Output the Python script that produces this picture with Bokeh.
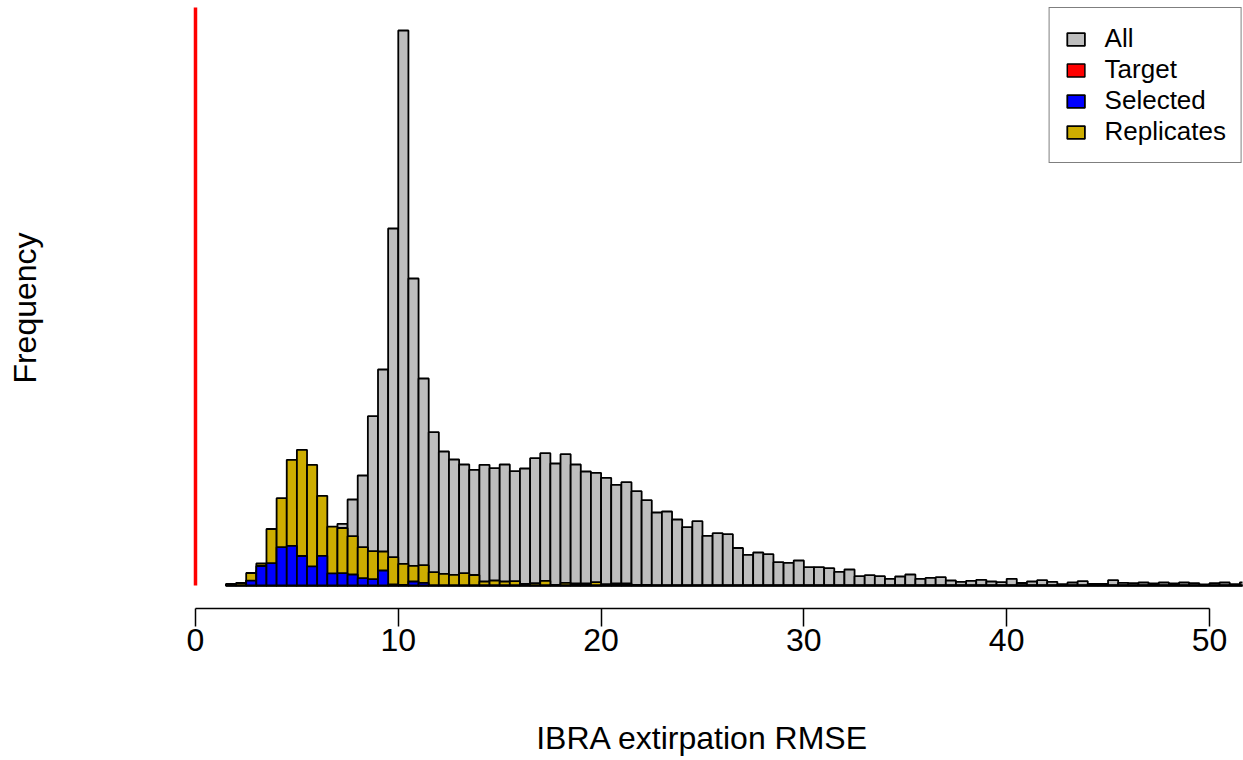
import numpy as np
from bokeh.plotting import figure
from bokeh.models import Range1d, FixedTicker, Legend, LegendItem, ColumnDataSource
from bokeh.embed import file_html
from bokeh.resources import INLINE

# ---------------- data ----------------
bin_start = 1.5
bin_width = 0.5

all_counts = [
    1.5, 2, 5, 15, 20, 25, 30, 33, 38, 42,
    50, 61.7, 86, 110, 169.3, 216, 357, 555, 307, 207,
    153.3, 134, 126, 121, 115.7, 120.7, 117.3, 121, 114.3, 117,
    127.3, 132.3, 122, 131.3, 121, 114, 112.7, 107.7, 100.7, 103.3,
    94.3, 85.3, 73, 74, 66, 58.3, 64.3, 49.7, 52.3, 51.3,
    37.5, 30.7, 33, 31.3, 23.3, 22.7, 25, 18.3, 18.3, 17.3,
    13.7, 16, 9.3, 10.3, 9.3, 6.7, 9, 11, 6.7, 7.7,
    8.3, 5, 3.7, 4.7, 5.7, 4, 3.3, 6.7, 2.5, 4,
    5.3, 3.7, 1.3, 3, 4.3, 1.7, 1.7, 5.3, 2.7, 2.3,
    3, 2, 3, 2, 3, 2.3, 1, 2.3, 3, 1.3,
    3,
]

replicate_counts = [
    0.8, 2.5, 12.5, 22, 56.5, 87.3, 125.7, 135.7, 120.7, 89.7,
    58.8, 57.5, 49.3, 38.3, 34.3, 34, 28.3, 21.7, 19.7, 20.3,
    13.3, 11.7, 10.7, 12.3, 10.5, 4, 5, 4, 4.3, 1.7,
    2.3, 4.7, 0.7, 2.7, 2, 2, 3.3, 1.3, 2, 2,
    0.7, 0.5,
] + [0] * 59

selected_counts = [
    0, 0, 4.8, 19.5, 22.3, 38.3, 39.7, 29.5, 19.2, 29.7,
    12.2, 12.3, 11, 7.3, 6.3, 15, 1, 0.7, 4, 2.7,
] + [0] * 81

target_value = 0.0

x_ticks = [0, 10, 20, 30, 40, 50]
x_label = "IBRA extirpation RMSE"
y_label = "Frequency"
legend_labels = ["All", "Target", "Selected", "Replicates"]

# ---------------- build ----------------
n = len(all_counts)
lefts = bin_start + bin_width * np.arange(n)
rights = lefts + bin_width
zeros = np.zeros(n)

FONT = "Liberation Sans"
BAR_LW = 1.8

p = figure(width=1243, height=760,
           x_range=Range1d(-1.627, 51.63), y_range=Range1d(-23, 578),
           output_backend="svg", toolbar_location=None,
           min_border_left=162, min_border_right=1,
           min_border_top=7, min_border_bottom=152)
p.background_fill_color = "white"
p.border_fill_color = "white"
p.outline_line_color = None
p.xgrid.visible = False
p.ygrid.visible = False

src_all = ColumnDataSource(dict(left=lefts, right=rights, top=all_counts, bottom=zeros))
src_rep = ColumnDataSource(dict(left=lefts, right=rights, top=replicate_counts, bottom=zeros))
src_sel = ColumnDataSource(dict(left=lefts, right=rights, top=selected_counts, bottom=zeros))

r_all = p.quad(left="left", right="right", top="top", bottom="bottom", source=src_all,
               fill_color="#BEBEBE", line_color="black", line_width=BAR_LW)
r_rep = p.quad(left="left", right="right", top="top", bottom="bottom", source=src_rep,
               fill_color="#CDAD00", line_color="black", line_width=BAR_LW)
r_sel = p.quad(left="left", right="right", top="top", bottom="bottom", source=src_sel,
               fill_color="#0000FF", line_color="black", line_width=BAR_LW)
# legend key for the target (zero-size box at the target value, hidden under the red line)
r_tgt_key = p.quad(left=[target_value], right=[target_value], top=[0], bottom=[0],
                   fill_color="#FF0000", line_color="black", line_width=1.5)
p.segment(x0=[target_value], y0=[0], x1=[target_value], y1=[600],
          line_color="#FF0000", line_width=3.5)

# x axis
xa = p.xaxis[0]
xa.bounds = (0, 50)
xa.ticker = FixedTicker(ticks=x_ticks)
xa.minor_tick_line_color = None
xa.major_tick_in = 0
xa.major_tick_out = 18
xa.major_tick_line_width = 1.5
xa.axis_line_width = 1.5
xa.major_label_standoff = 2
xa.major_label_text_font = FONT
xa.major_label_text_font_size = "32px"
xa.major_label_text_color = "black"
xa.axis_label = x_label
xa.axis_label_text_font = FONT
xa.axis_label_text_font_size = "32px"
xa.axis_label_text_font_style = "normal"
xa.axis_label_text_color = "black"
xa.axis_label_standoff = 66

# y axis (label only)
ya = p.yaxis[0]
ya.ticker = FixedTicker(ticks=[])
ya.axis_line_color = None
ya.major_tick_line_color = None
ya.minor_tick_line_color = None
ya.axis_label = y_label
ya.axis_label_text_font = FONT
ya.axis_label_text_font_size = "32px"
ya.axis_label_text_font_style = "normal"
ya.axis_label_text_color = "black"
ya.axis_label_standoff = 120

legend = Legend(items=[
    LegendItem(label=legend_labels[0], renderers=[r_all]),
    LegendItem(label=legend_labels[1], renderers=[r_tgt_key]),
    LegendItem(label=legend_labels[2], renderers=[r_sel]),
    LegendItem(label=legend_labels[3], renderers=[r_rep]),
], location="top_right")
legend.margin = 0
legend.padding = 15
legend.spacing = -1
legend.glyph_width = 22
legend.glyph_height = 16
legend.label_standoff = 18
legend.label_text_font = FONT
legend.label_text_font_size = "26px"
legend.label_text_color = "black"
legend.border_line_color = "black"
legend.border_line_width = 1.5
legend.background_fill_color = "white"
legend.background_fill_alpha = 1.0
p.add_layout(legend)

open("out.html", "w").write(file_html(p, INLINE))
